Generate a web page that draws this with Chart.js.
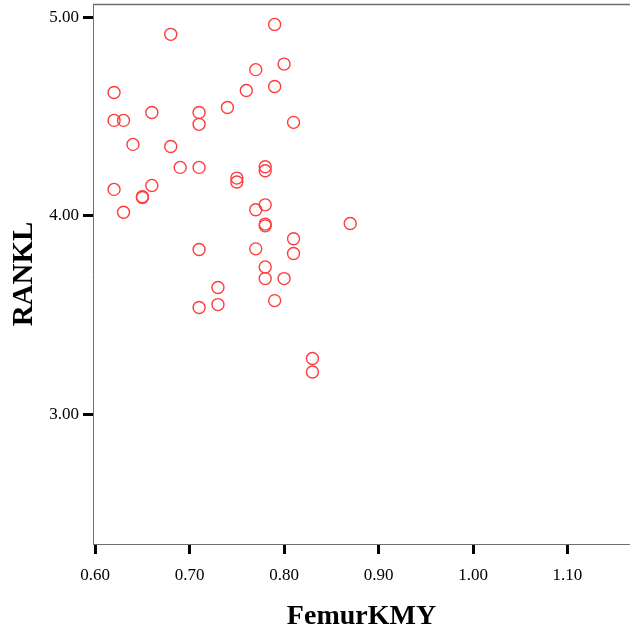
<!DOCTYPE html>
<html>
<head>
<meta charset="utf-8">
<title>FemurKMY vs RANKL</title>
<script src="https://cdn.jsdelivr.net/npm/chart.js@4/dist/chart.umd.min.js"></script>
<style>
  html, body { margin: 0; padding: 0; background: #ffffff; overflow: hidden; }
  #scatter { display: block; }
</style>
</head>
<body>
<canvas id="scatter" width="630" height="635"></canvas>
<script>
// FemurKMY (x) and RANKL (y) per subject
const femurKMY = [
  0.68, 0.79, 0.77, 0.80, 0.76, 0.79, 0.62, 0.62, 0.63, 0.66,
  0.71, 0.71, 0.74, 0.81, 0.64, 0.68, 0.69, 0.71, 0.75, 0.75,
  0.78, 0.78, 0.62, 0.65, 0.65, 0.66, 0.63, 0.78, 0.77, 0.78,
  0.78, 0.87, 0.81, 0.81, 0.71, 0.77, 0.78, 0.78, 0.80, 0.73,
  0.73, 0.71, 0.79, 0.83, 0.83
];
const rankl = [
  4.916, 4.966, 4.738, 4.766, 4.633, 4.653, 4.623, 4.482, 4.482, 4.522,
  4.522, 4.462, 4.547, 4.472, 4.361, 4.350, 4.245, 4.245, 4.191, 4.171,
  4.248, 4.228, 4.134, 4.097, 4.093, 4.154, 4.019, 4.056, 4.031, 3.959,
  3.950, 3.962, 3.885, 3.811, 3.831, 3.834, 3.743, 3.684, 3.684, 3.639,
  3.553, 3.538, 3.573, 3.281, 3.213
];

const xTicks = [0.60, 0.70, 0.80, 0.90, 1.00, 1.10];
const yTicks = [3.00, 4.00, 5.00];

const points = femurKMY.map((x, i) => ({ x: x, y: rankl[i] }));

const serif = 'Liberation Serif, "Times New Roman", serif';

// top edge of the frame (the axes only draw left and bottom)
const frameTop = {
  id: 'frameTop',
  afterDraw(chart) {
    const { ctx, chartArea } = chart;
    ctx.save();
    ctx.strokeStyle = '#6e6e6e';
    ctx.lineWidth = 1.5;
    ctx.beginPath();
    ctx.moveTo(chartArea.left, chartArea.top + 0.5);
    ctx.lineTo(chartArea.right, chartArea.top + 0.5);
    ctx.stroke();
    ctx.restore();
  }
};

function setTicks(list) {
  return scale => { scale.ticks = list.map(v => ({ value: v })); };
}

new Chart(document.getElementById('scatter'), {
  type: 'scatter',
  data: {
    datasets: [{
      data: points,
      pointStyle: 'circle',
      pointRadius: 6,
      pointHoverRadius: 6,
      borderWidth: 1.4,
      borderColor: '#ff3b3b',
      backgroundColor: 'rgba(0,0,0,0)'
    }]
  },
  options: {
    responsive: false,
    animation: false,
    events: [],
    layout: {
      autoPadding: false,
      padding: { top: 4, right: 0, left: 0, bottom: 0 }
    },
    plugins: {
      legend: { display: false },
      tooltip: { enabled: false }
    },
    scales: {
      x: {
        type: 'linear',
        min: 0.5977,
        max: 1.1662,
        afterBuildTicks: setTicks(xTicks),
        afterFit: scale => {
          // plot runs to the right edge of the canvas
          scale.height = 91;
          scale.paddingLeft = 0;
          scale.paddingRight = 0;
        },
        border: { color: '#6e6e6e', width: 1 },
        grid: {
          drawOnChartArea: false,
          tickLength: 10,
          tickWidth: 3,
          tickColor: '#000000'
        },
        ticks: {
          padding: 11,
          color: '#000000',
          font: { family: serif, size: 17 },
          callback: v => v.toFixed(2)
        },
        title: {
          display: true,
          text: 'FemurKMY',
          color: '#000000',
          padding: { top: 0, bottom: 1 },
          font: { family: serif, size: 28, weight: 'bold' }
        }
      },
      y: {
        type: 'linear',
        min: 2.3455,
        max: 5.069,
        afterBuildTicks: setTicks(yTicks),
        afterFit: scale => {
          scale.width = 93;
          scale.paddingTop = 0;
          scale.paddingBottom = 0;
        },
        border: { color: '#6e6e6e', width: 1 },
        grid: {
          drawOnChartArea: false,
          tickLength: 10,
          tickWidth: 3,
          tickColor: '#000000'
        },
        ticks: {
          padding: 4,
          color: '#000000',
          font: { family: serif, size: 17 },
          callback: v => v.toFixed(2)
        },
        title: {
          display: true,
          text: 'RANKL',
          color: '#000000',
          padding: { top: 7, bottom: 0 },
          font: { family: serif, size: 29, weight: 'bold' }
        }
      }
    }
  },
  plugins: [frameTop]
});
</script>
</body>
</html>
